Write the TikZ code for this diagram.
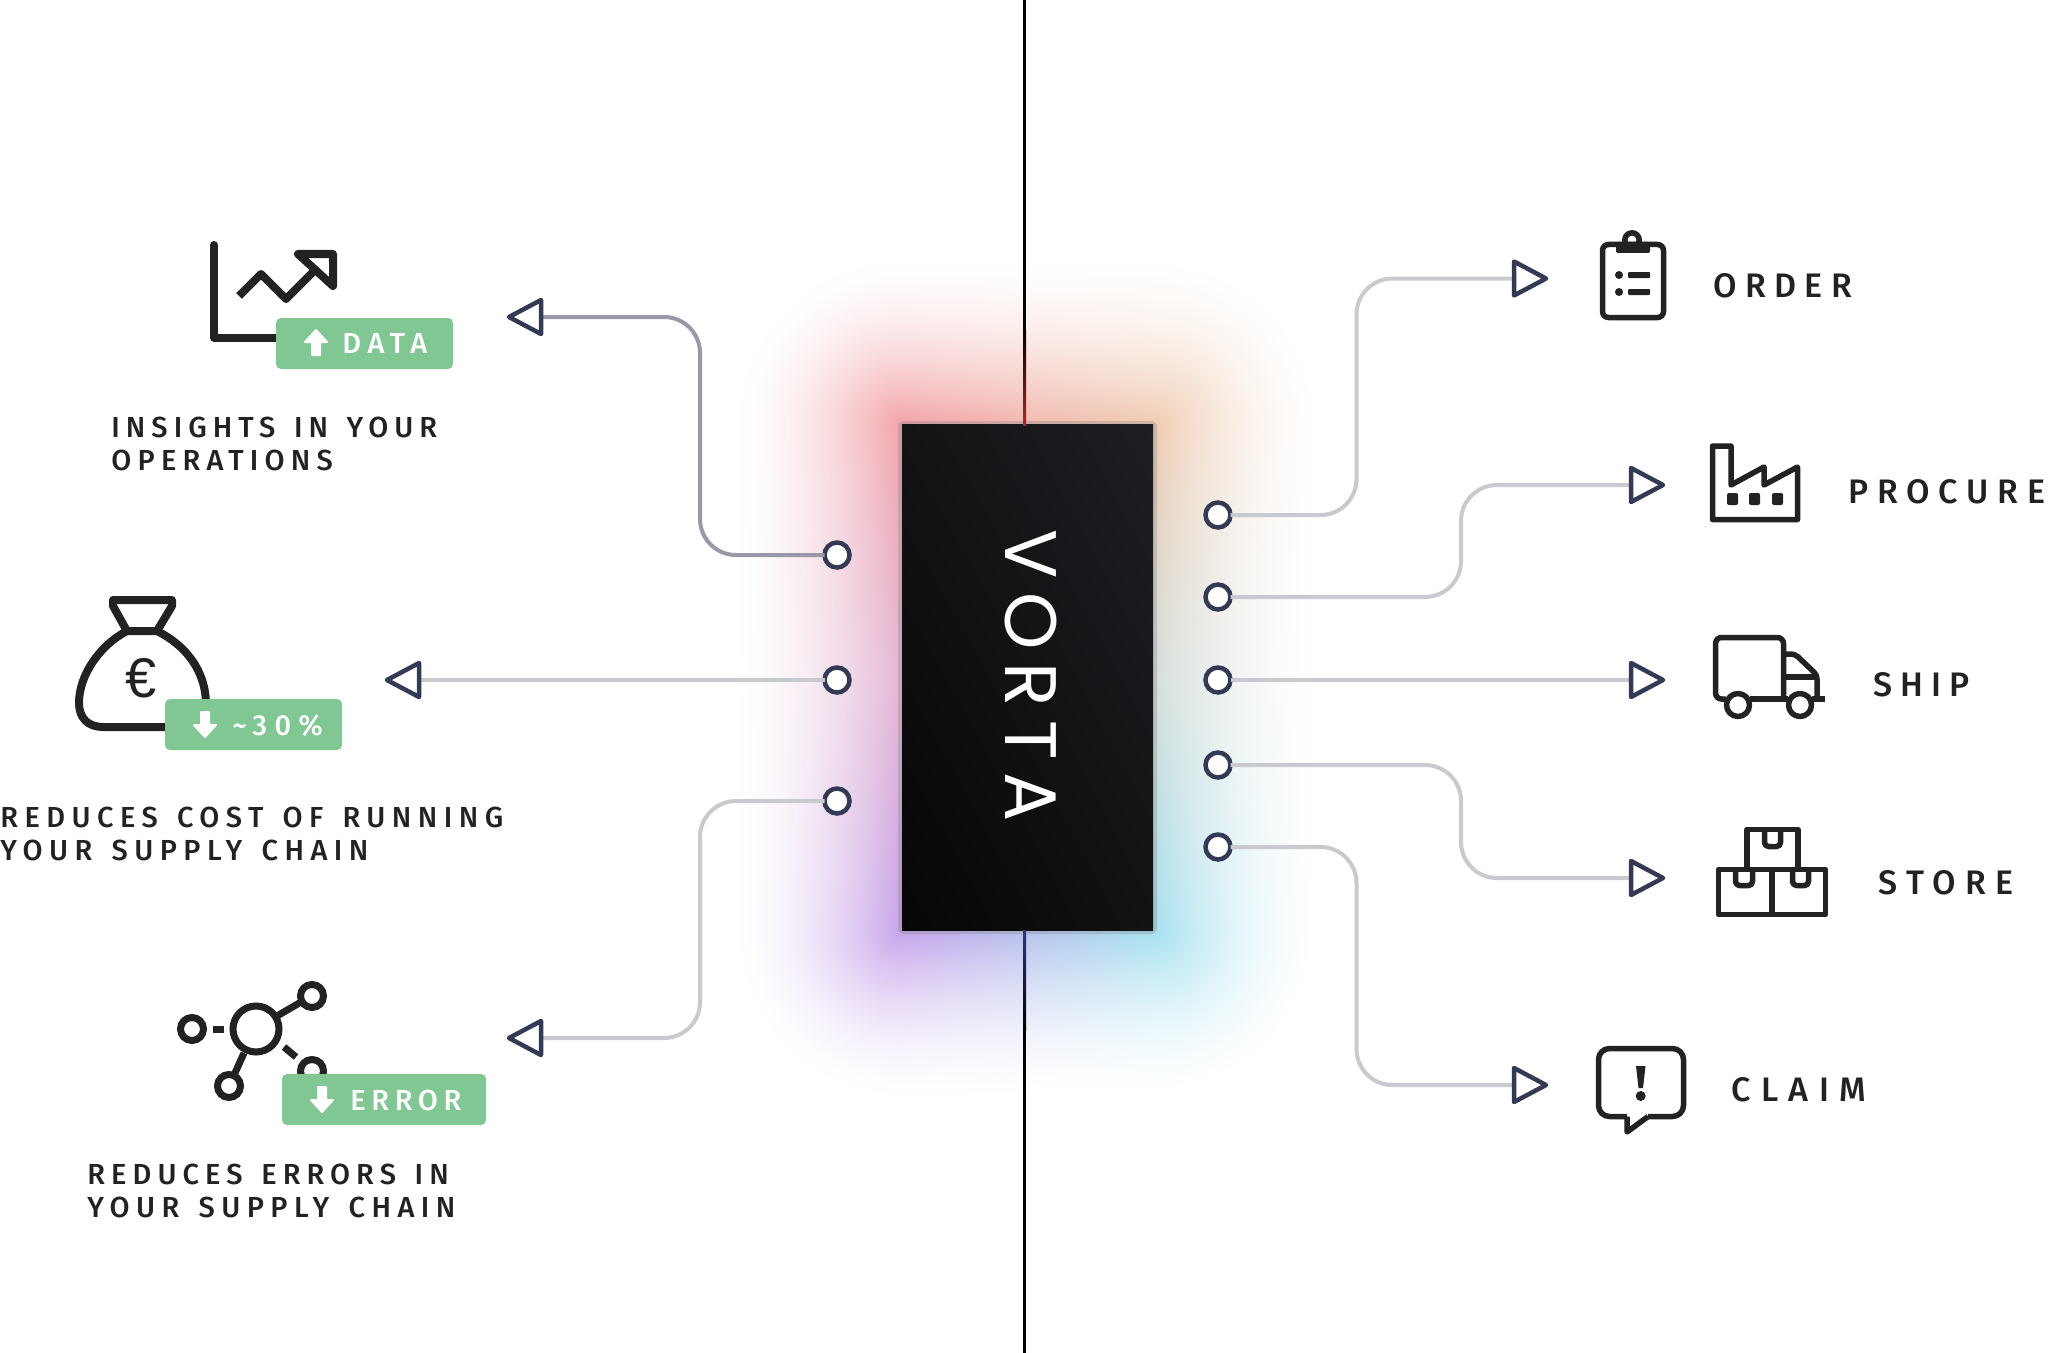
\documentclass[tikz,border=0pt]{standalone}
\usepackage{fontspec}
\usetikzlibrary{calc,shadings}
\setmainfont{Liberation Sans}
\newfontfamily\lf[WordSpace=1.4]{Fira Sans Medium}
\newfontfamily\vf[LetterSpace=18]{Poppins}
\definecolor{ink}{HTML}{222222}
\definecolor{navy}{HTML}{323A55}
\definecolor{wire}{HTML}{C9C9D0}
\definecolor{wiredark}{HTML}{9A98A8}
\definecolor{badgegreen}{HTML}{80C794}
\definecolor{boxbl}{HTML}{060607}
\definecolor{boxbr}{HTML}{121214}
\definecolor{boxtl}{HTML}{131315}
\definecolor{boxtr}{HTML}{1E1E24}
\definecolor{linered}{HTML}{AA2828}
\definecolor{lineblue}{HTML}{323282}
% glow: a blurred four-colour rectangle, as a PostScript calculator function
\pgfdeclarefunctionalshading{glowshade}{\pgfpointorigin}{\pgfpoint{370bp}{500bp}}{}{
 2 copy
 2 mul 522.5 sub abs 252.5 sub dup abs add 2 div
 exch 2 mul 367.5 sub abs 125.5 sub dup abs add 2 div
 dup mul exch dup mul add sqrt
 172 div neg 1 add dup abs add 2 div
 1.7 exp
 3 1 roll
 2 mul 270 sub 505 div dup abs add 2 div 1 sub dup abs sub 2 div 1 add
 dup 2 mul 1 sub abs 0.2 mul 0.8 add
 4 -1 roll mul 3 1 roll
 exch
 2 mul 242 sub 251 div dup abs add 2 div 1 sub dup abs sub 2 div 1 add
 1 index -0.17 mul 0.22 add
 2 index -0.29 mul 0.35 add
 1 index sub 2 index mul add
 3 index mul neg 1 add
 2 index 0 mul 0.36 add
 3 index 0.08 mul 0.12 add
 1 index sub 3 index mul add
 4 index mul neg 1 add
 3 index 0.26 mul 0.08 add
 4 index 0.24 mul 0.06 add
 1 index sub 4 index mul add
 5 index mul neg 1 add
 6 3 roll pop pop pop
}
\tikzset{
 x=0.5bp,y=-0.5bp,
 conn/.style={draw=wire,line width=2bp,rounded corners=18bp},
 conndark/.style={conn,draw=wiredark},
 port/.style={circle,draw=navy,fill=white,line width=2.25bp,minimum size=12.5bp,inner sep=0pt,outer sep=0pt},
 tri/.style={draw=navy,fill=white,line width=2.25bp,line join=round},
 icon/.style={draw=ink,line width=2.75bp,line join=round},
 heavyicon/.style={draw=ink,line width=4bp,line join=round},
 netline/.style={draw=ink,line width=3.5bp},
 badge/.style={fill=badgegreen,rounded corners=2.5bp},
 badgetext/.style={text=white,inner sep=0pt,anchor=base west,font=\lf\fontsize{14.5bp}{16.5bp}\selectfont},
 sidelabel/.style={text=ink,inner sep=0pt,align=left,anchor=north west,font=\lf\fontsize{14.5bp}{16.5bp}\selectfont},
 rightlabel/.style={text=ink,inner sep=0pt,anchor=base west,font=\lf\fontsize{17bp}{20bp}\selectfont},
 badgearrow/.pic={\fill[white,draw=white,line width=1bp,line join=round]
   (0,-12)--(11,0)--(4,0)--(4,13)--(-4,13)--(-4,0)--(-11,0)--cycle;}
}
\newcommand\ls[1]{\addfontfeature{LetterSpace=#1}}
\newcommand\triright[1]{\draw[tri] ($(#1)+(0,-17)$)--($(#1)+(32,0)$)--($(#1)+(0,17)$)--cycle;}
\newcommand\trileft[1]{\draw[tri] ($(#1)+(0,-17)$)--($(#1)+(-32,0)$)--($(#1)+(0,17)$)--cycle;}
\begin{document}
\begin{tikzpicture}
\useasboundingbox (0,0) rectangle (2049,1353);
\fill[white] (0,0) rectangle (2049,1353);

% glow
\node[inner sep=0pt,outer sep=0pt,anchor=south west] (glow) at (660,1200) {\pgfuseshading{glowshade}};

% central line
\coordinate (linetop) at (1024.5,0);
\coordinate (linebot) at (1024.5,1353);
\fill[gray,opacity=.3,rounded corners=3bp] (898,421) rectangle (1157,934);
\node[shade,lower left=boxbl,lower right=boxbr,upper left=boxtl,upper right=boxtr,minimum width=125.5bp,minimum height=252.5bp,inner sep=0pt,outer sep=0pt] (vortabox) at (1027.5,677.5) {};
\draw[black,line width=1.5bp] (linetop) -- (linetop |- vortabox.north);
\draw[black,line width=1.5bp] (linebot) -- (linebot |- vortabox.south);
\shade[top color=black,bottom color=linered] (1023,330) rectangle (1026,425);
\shade[top color=lineblue,bottom color=black] (1023,930) rectangle (1026,1030);
\node[text=white,inner sep=0pt,rotate=-90,font=\vf\fontsize{36.5bp}{40bp}\selectfont] (vortatext) at (1031,676) {VORTA};

% ports
\node[port] (pl1) at (837,555) {};
\node[port] (pl2) at (837,680) {};
\node[port] (pl3) at (837,801) {};
\node[port] (pr1) at (1218,515) {};
\node[port] (pr2) at (1218,597) {};
\node[port] (pr3) at (1218,680) {};
\node[port] (pr4) at (1218,765) {};
\node[port] (pr5) at (1218,847) {};

% connector ends
\coordinate (tl1) at (541,317);
\coordinate (tl2) at (419,680);
\coordinate (tl3) at (541,1038);
\coordinate (tr1) at (1514,278.5);
\coordinate (tr2) at (1631,485);
\coordinate (tr3) at (1631,680);
\coordinate (tr4) at (1631,878);
\coordinate (tr5) at (1514,1085);

\draw[conndark] (pl1.west) -| (700,317) -- (tl1);
\draw[conn] (pl2.west) -- (tl2);
\draw[conn] (pl3.west) -| (700,1038) -- (tl3);
\draw[conn] (pr1.east) -| (1356.5,278.5) -- (tr1);
\draw[conn] (pr2.east) -| (1461,485) -- (tr2);
\draw[conn] (pr3.east) -- (tr3);
\draw[conn] (pr4.east) -| (1461,878) -- (tr4);
\draw[conn] (pr5.east) -| (1356.5,1085) -- (tr5);

\trileft{tl1}\trileft{tl2}\trileft{tl3}
\triright{tr1}\triright{tr2}\triright{tr3}\triright{tr4}\triright{tr5}

% chart icon
\draw[heavyicon,line cap=round] (214,245) -- (214,338) -- (290,338);
\draw[heavyicon,line cap=butt] (239,296) -- (261,274) -- (286,299) -- (317,268);
\draw[heavyicon] (298,254) -- (333,254) -- (333,286) -- cycle;
\node[badge,minimum width=88.5bp,minimum height=25.5bp,inner sep=0pt] (b1) at (364.5,343.5) {};
\pic at (316,342) {badgearrow};
\node[badgetext] (b1t) at (342,353) {\ls{23}DATA};
\node[sidelabel] (s1) at (111,417) {{\ls{20.8}INSIGHTS IN YOUR}\\{\ls{21.5}OPERATIONS}};

% money bag icon
\draw[heavyicon] (127,631) -- (113,606) -- (113,600) -- (172,600) -- (172,606) -- (157,631) -- cycle;
\draw[heavyicon] (127,631) .. controls (100,645) and (79,675) .. (79,703) .. controls (79,718) and (88,727) .. (103,727) -- (175,727);
\draw[heavyicon] (157,631) .. controls (185,645) and (206,670) .. (206,705);
\node[text=ink,inner sep=0pt,font=\fontsize{28bp}{30bp}\selectfont] (euro) at (141,678) {€};
\node[badge,minimum width=88.5bp,minimum height=25.5bp,inner sep=0pt] (b2) at (253.5,724.5) {};
\pic[yscale=-1] at (205,725) {badgearrow};
\node[badgetext] (b2t) at (232,735) {\ls{25}\textasciitilde 30\%};
\node[sidelabel] (s2) at (0,807) {{\ls{22.3}REDUCES COST OF RUNNING}\\{\ls{22.4}YOUR SUPPLY CHAIN}};

% network icon
\draw[netline] (256,1029) circle[radius=11.5bp];
\draw[netline] (312,996) circle[radius=5.75bp];
\draw[netline] (192,1029) circle[radius=5.75bp];
\draw[netline] (229,1086) circle[radius=5.75bp];
\draw[netline] (312,1071) circle[radius=5.75bp];
\draw[netline] (277,1016) -- (301,1002);
\draw[netline] (213,1029) -- (224,1029);
\draw[netline] (284,1047) -- (296,1057);
\draw[netline] (244,1053) -- (235,1073);
\node[badge,minimum width=102bp,minimum height=25.5bp,inner sep=0pt] (b3) at (384,1099.5) {};
\pic[yscale=-1] at (322,1100) {badgearrow};
\node[badgetext] (b3t) at (350,1110) {\ls{19.5}ERROR};
\node[sidelabel] (s3) at (87,1164) {{\ls{21}REDUCES ERRORS IN}\\{\ls{22.4}YOUR SUPPLY CHAIN}};

% clipboard
\draw[icon,rounded corners=3bp] (1602.5,244.5) rectangle (1663.5,317.5);
\fill[ink,rounded corners=1bp] (1616,242) rectangle (1650,253);
\draw[icon] (1632,240) circle[radius=3.6bp];
\fill[ink] (1619,275) circle[radius=2bp] (1619,292) circle[radius=2bp];
\fill[ink,rounded corners=.5bp] (1628,272) rectangle (1650,278) (1628,289) rectangle (1650,295);
\node[rightlabel] (order) at (1713,297) {\ls{24.7}ORDER};

% factory
\draw[icon] (1712.5,519.5) -- (1712.5,446) -- (1731,446) -- (1731,485) -- (1764,467) -- (1764,485) -- (1797.5,467) -- (1797.5,519.5) -- cycle;
\fill[ink,rounded corners=1bp] (1727,493) rectangle (1738,505) (1749,493) rectangle (1760,505) (1772,493) rectangle (1783,505);
\node[rightlabel] (procure) at (1848,503) {\ls{26}PROCURE};

% truck
\draw[icon,rounded corners=3bp] (1726,699) -- (1715.5,699) -- (1715.5,637.5) -- (1783.5,637.5) -- (1783.5,699);
\draw[icon] (1750,699) -- (1788,699);
\draw[icon] (1812,699) -- (1825,699);
\draw[icon,rounded corners=2bp] (1783.5,654) -- (1795,654) -- (1817,675) -- (1817,699);
\draw[icon] (1783.5,677) -- (1817,677);
\draw[icon] (1738,705) circle[radius=5.75bp];
\draw[icon] (1800,705) circle[radius=5.75bp];
\node[rightlabel] (ship) at (1873,696) {\ls{23.3}SHIP};

% boxes
\draw[icon] (1747,867) -- (1747,829.5) -- (1798,829.5) -- (1798,867);
\draw[icon,rounded corners=2bp] (1764.5,829.5) -- (1764.5,846.5) -- (1780.5,846.5) -- (1780.5,829.5);
\draw[icon] (1718.5,869.5) rectangle (1825.5,914.5);
\draw[icon] (1772,869.5) -- (1772,914.5);
\draw[icon,rounded corners=2bp] (1735.5,869.5) -- (1735.5,885.5) -- (1752.5,885.5) -- (1752.5,869.5);
\draw[icon,rounded corners=2bp] (1792.5,869.5) -- (1792.5,885.5) -- (1808.5,885.5) -- (1808.5,869.5);
\node[rightlabel] (store) at (1878,894) {\ls{27.8}STORE};

% claim bubble
\draw[icon,rounded corners=5.5bp] (1648,1116.5) -- (1683.5,1116.5) -- (1683.5,1048.5) -- (1598.5,1048.5) -- (1598.5,1116.5) -- (1627,1116.5);
\draw[icon] (1648,1116.5) -- (1627,1132) -- (1627,1116.5);
\fill[ink] (1636,1066) -- (1645.5,1066) -- (1643,1088) -- (1638.5,1088) -- cycle;
\fill[ink] (1640.7,1096) circle[radius=2.5bp];
\node[rightlabel] (claim) at (1731,1101) {\ls{31}CLAIM};
\end{tikzpicture}
\end{document}
